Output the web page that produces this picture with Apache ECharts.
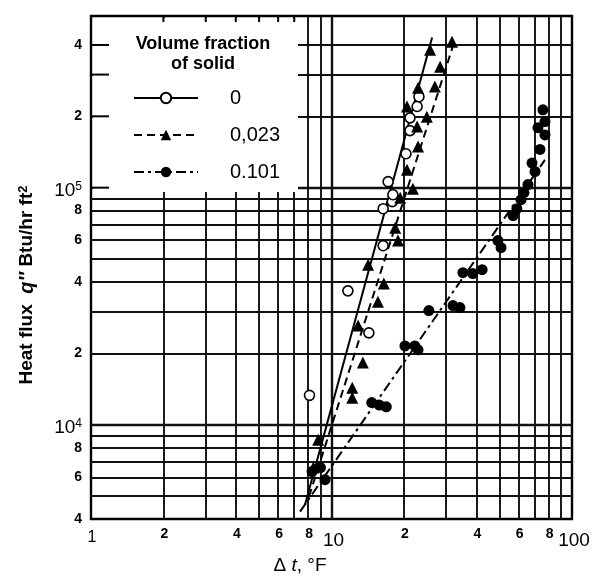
<!DOCTYPE html>
<html>
<head>
<meta charset="utf-8">
<style>
html, body { margin: 0; padding: 0; background: #fff; }
#main { width: 595px; height: 577px; }
</style>
<script src="https://cdn.jsdelivr.net/npm/echarts@6/dist/echarts.min.js"></script>
</head>
<body>
<div id="main"></div>
<script>
// =================================================================================
// Data (delta t in F, heat flux in Btu/hr ft2)

// volume fraction 0 (open circles)
var pure_dt = [8.1, 11.7, 14.3, 16.4, 16.4, 17.9, 18.0, 17.2, 20.4, 21.2, 21.2, 22.7, 23.1];
var pure_q = [13300, 36700, 24400, 56900, 81500, 87300, 93400, 106000, 139000, 174000, 197000, 220000, 242000];

// volume fraction 0.023 (filled triangles)
var mid_dt = [31.7, 25.7, 28.3, 26.9, 22.9, 20.6, 24.9, 22.7, 22.9, 20.6, 21.8, 19.3, 18.4, 18.9, 14.2, 16.5, 15.6, 12.9, 13.5, 12.2, 12.2, 8.8, 8.4];
var mid_q = [413000, 382000, 324000, 267000, 264000, 220000, 199000, 181000, 149000, 119000, 99000, 90700, 67800, 59800, 47300, 39400, 33000, 26200, 18300, 14300, 13000, 8640, 6590];

// volume fraction 0.101 (filled circles)
var high_dt = [75.7, 77.2, 72.2, 77.2, 73.6, 68.2, 70.2, 65.6, 63.1, 61.4, 59.0, 56.9, 49.2, 50.7, 42.3, 38.7, 35.2, 34.2, 32.0, 25.4, 22.9, 20.2, 22.2, 14.7, 15.8, 16.9, 8.3, 9.0, 9.4];
var high_q = [213000, 190000, 179000, 167000, 145000, 127000, 117000, 103000, 95300, 89000, 81500, 76200, 59800, 55800, 45100, 43400, 43800, 31200, 31800, 30300, 20700, 21500, 21500, 12400, 12100, 11900, 6340, 6590, 5860];

// fitted lines (end points)
var pure_fit_dt = [7.76, 26.2];
var pure_fit_q = [4590, 430000];
var mid_fit_dt = [8.06, 32.6];
var mid_fit_q = [4970, 421000];
var high_fit_dt = [7.4, 77.2];
var high_fit_q = [4300, 131000];

var legend_names = ['0', '0,023', '0.101'];

// grid lines and tick labels
var x_grid = [2, 3, 4, 5, 6, 7, 8, 9, 10, 20, 30, 40, 50, 60, 70, 80, 90];
var x_ticks = [1, 2, 4, 6, 8, 10, 20, 40, 60, 80, 100];
var x_tick_text = ['1', '2', '4', '6', '8', '10', '2', '4', '6', '8', '100'];
var y_grid = [5000, 6000, 7000, 8000, 9000, 10000, 20000, 30000, 40000, 50000, 60000, 70000, 80000, 90000, 100000, 200000, 300000, 400000];
var y_ticks = [4000, 6000, 8000, 10000, 20000, 40000, 60000, 80000, 100000, 200000, 400000];
var y_tick_text = ['4', '6', '8', '10{s|4}', '2', '4', '6', '8', '10{s|5}', '2', '4'];
// short ticks that stay visible inside the legend box
var top_ticks = [2, 3, 4, 5, 6, 7];
var left_ticks = [100000, 200000, 300000, 400000];

var FONT = 'Liberation Sans';
var CLEAR = 'rgba(0,0,0,0)';

function zip(a, b) {
    var res = [];
    for (var i = 0; i < a.length; i++) {
        res.push([a[i], b[i]]);
    }
    return res;
}

// =================================================================================
// Grid lines as mark lines so they follow the log scales
function buildGridLines() {
    var res = [];
    var i;
    for (i = 0; i < x_grid.length; i++) {
        res.push({
            xAxis: x_grid[i],
            lineStyle: { width: x_grid[i] == 10 ? 2.4 : 1.9 },
            label: { show: false }
        });
    }
    for (i = 0; i < y_grid.length; i++) {
        res.push({
            yAxis: y_grid[i],
            lineStyle: { width: (y_grid[i] == 10000 || y_grid[i] == 100000) ? 2.4 : 1.9 },
            label: { show: false }
        });
    }
    // tick labels hang off the start of invisible lines
    for (i = 0; i < x_ticks.length; i++) {
        var big = x_ticks[i] == 10 || x_ticks[i] == 100;
        var one = x_ticks[i] == 1;
        res.push({
            xAxis: x_ticks[i],
            lineStyle: { color: CLEAR, width: 0 },
            label: {
                show: true,
                position: 'start',
                formatter: x_tick_text[i],
                distance: big ? 12 : (one ? 11 : 8),
                offset: big ? [2, 0] : [1, 0],
                fontFamily: FONT,
                fontSize: big ? 19 : (one ? 16 : 14),
                fontWeight: (big || one) ? 'normal' : 'bold',
                color: '#000'
            }
        });
    }
    for (i = 0; i < y_ticks.length; i++) {
        var pow = y_tick_text[i].indexOf('{') > -1;
        res.push({
            yAxis: y_ticks[i],
            lineStyle: { color: CLEAR, width: 0 },
            label: {
                show: true,
                position: 'start',
                formatter: y_tick_text[i],
                distance: 9,
                offset: pow ? [0, 3] : [0, 0],
                fontFamily: FONT,
                fontSize: pow ? 19 : 14,
                fontWeight: pow ? 'normal' : 'bold',
                color: '#000',
                rich: {
                    s: { fontSize: 12, fontFamily: FONT, verticalAlign: 'top', lineHeight: 14, color: '#000' }
                }
            }
        });
    }
    return res;
}

var chart = echarts.init(document.getElementById('main'));

var option = {
    animation: false,
    backgroundColor: '#fff',
    grid: {
        left: 91,
        right: 23,
        top: 16,
        bottom: 58,
        show: true,
        borderColor: '#000',
        borderWidth: 2.4,
        backgroundColor: '#fff'
    },
    xAxis: {
        type: 'log',
        logBase: 10,
        min: 1,
        max: 100,
        axisLine: { show: false },
        axisTick: { show: false },
        axisLabel: { show: false },
        splitLine: { show: false }
    },
    yAxis: {
        type: 'log',
        logBase: 10,
        min: 4000,
        max: 530000,
        axisLine: { show: false },
        axisTick: { show: false },
        axisLabel: { show: false },
        splitLine: { show: false }
    },
    legend: {
        z: 20,
        orient: 'vertical',
        left: 128,
        top: 83,
        itemWidth: 64,
        itemHeight: 13,
        itemGap: 17,
        selectedMode: false,
        data: legend_names,
        textStyle: {
            fontFamily: FONT,
            fontSize: 20,
            color: '#000',
            padding: [0, 0, 0, 27]
        }
    },
    series: [
        {
            name: 'grid',
            type: 'line',
            data: [],
            silent: true,
            markLine: {
                silent: true,
                symbol: ['none', 'none'],
                lineStyle: { color: '#111', type: 'solid' },
                data: buildGridLines()
            }
        },
        {
            name: legend_names[0],
            type: 'line',
            z: 5,
            data: zip(pure_fit_dt, pure_fit_q),
            symbol: 'emptyCircle',
            showSymbol: false,
            itemStyle: { color: '#000' },
            lineStyle: { color: '#000', width: 2, type: 'solid' }
        },
        {
            name: legend_names[1],
            type: 'line',
            z: 5,
            data: zip(mid_fit_dt, mid_fit_q),
            symbol: 'triangle',
            showSymbol: false,
            itemStyle: { color: '#000' },
            lineStyle: { color: '#000', width: 2, type: [8, 5] }
        },
        {
            name: legend_names[2],
            type: 'line',
            z: 5,
            data: zip(high_fit_dt, high_fit_q),
            symbol: 'circle',
            showSymbol: false,
            itemStyle: { color: '#000' },
            lineStyle: { color: '#000', width: 2, type: [10, 4, 3, 4] }
        },
        {
            name: 'pts0',
            type: 'scatter',
            z: 6,
            data: zip(pure_dt, pure_q),
            symbol: 'circle',
            symbolSize: 10,
            itemStyle: { color: '#fff', borderColor: '#000', borderWidth: 1.6, opacity: 1 }
        },
        {
            name: 'pts1',
            type: 'scatter',
            z: 6,
            data: zip(mid_dt, mid_q),
            symbol: 'triangle',
            symbolSize: 12,
            itemStyle: { color: '#000', opacity: 1 }
        },
        {
            name: 'pts2',
            type: 'scatter',
            z: 6,
            data: zip(high_dt, high_q),
            symbol: 'circle',
            symbolSize: 11,
            itemStyle: { color: '#000', opacity: 1 }
        }
    ]
};

chart.setOption(option);

// =================================================================================
// Legend box, its title, edge ticks and axis titles
var elements = [
    {
        type: 'rect',
        z: 10,
        shape: { x: 93, y: 18, width: 205, height: 174 },
        style: { fill: '#fff' },
        silent: true
    },
    {
        type: 'text',
        z: 11,
        x: 203,
        y: 34,
        style: {
            text: 'Volume fraction\nof solid',
            fontFamily: FONT,
            fontSize: 18,
            fontWeight: 'bold',
            lineHeight: 20,
            align: 'center',
            fill: '#000'
        }
    },
    {
        type: 'text',
        z: 11,
        x: 27,
        y: 285,
        rotation: Math.PI / 2,
        style: {
            text: 'Heat flux  {i|q″} Btu/hr ft{s|2}',
            fontFamily: FONT,
            fontSize: 19,
            fontWeight: 'bold',
            align: 'center',
            verticalAlign: 'middle',
            fill: '#000',
            rich: {
                i: { fontFamily: FONT, fontSize: 20, fontWeight: 'bold', fontStyle: 'italic', fill: '#000' },
                s: { fontFamily: FONT, fontSize: 13, fontWeight: 'bold', verticalAlign: 'top', fill: '#000' }
            }
        }
    },
    {
        type: 'text',
        z: 11,
        x: 300,
        y: 566,
        style: {
            text: 'Δ {i|t}, °F',
            fontFamily: FONT,
            fontSize: 19,
            align: 'center',
            verticalAlign: 'middle',
            fill: '#000',
            rich: {
                i: { fontFamily: FONT, fontSize: 19, fontStyle: 'italic', fill: '#000' }
            }
        }
    }
];

var i, p;
for (i = 0; i < top_ticks.length; i++) {
    p = chart.convertToPixel({ gridIndex: 0 }, [top_ticks[i], 530000]);
    elements.push({
        type: 'line', z: 12, silent: true,
        shape: { x1: p[0], y1: p[1], x2: p[0], y2: p[1] + 6 },
        style: { stroke: '#000', lineWidth: 2 }
    });
}
for (i = 0; i < left_ticks.length; i++) {
    p = chart.convertToPixel({ gridIndex: 0 }, [1, left_ticks[i]]);
    elements.push({
        type: 'line', z: 12, silent: true,
        shape: { x1: p[0], y1: p[1], x2: p[0] + 18, y2: p[1] },
        style: { stroke: '#000', lineWidth: 2 }
    });
}

chart.setOption({ graphic: elements });
</script>
</body>
</html>
